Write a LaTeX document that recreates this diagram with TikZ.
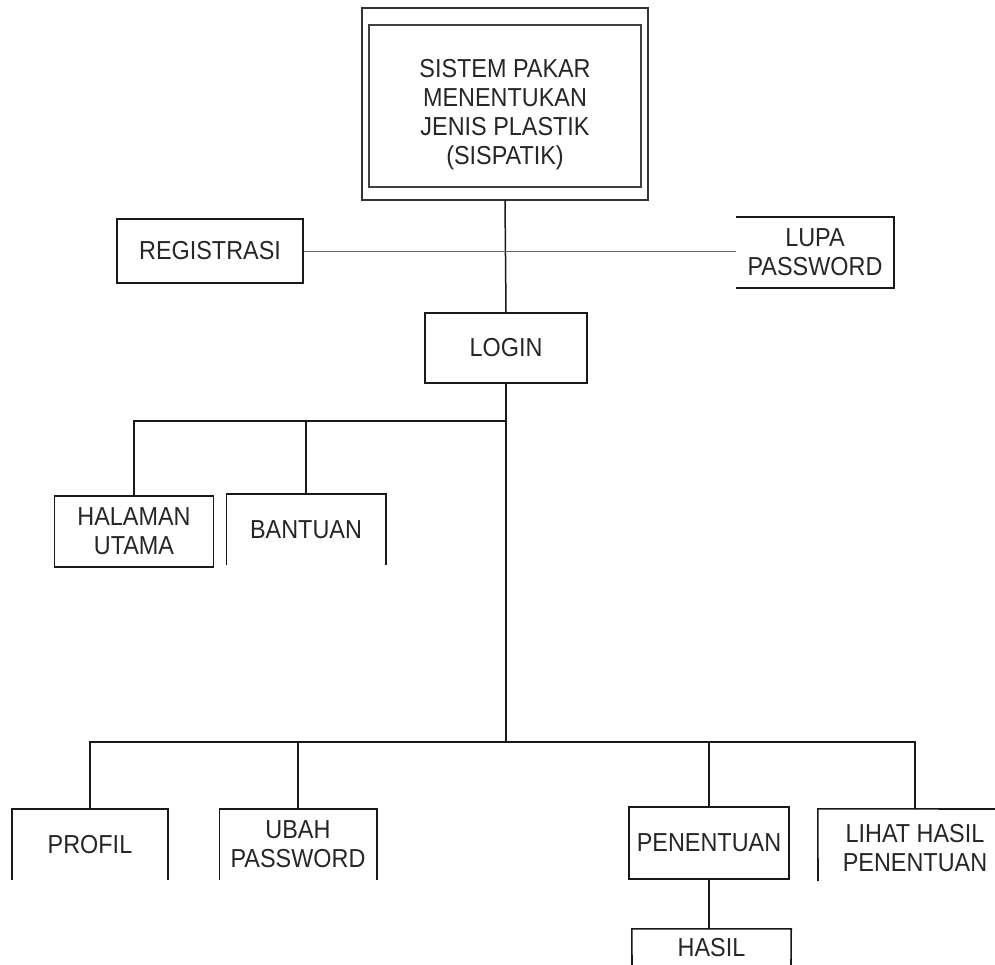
\documentclass[tikz,border=0pt]{standalone}
\usepackage{fontspec}
\newfontfamily\diagfont[FakeStretch=0.9]{Liberation Sans}
\begin{document}
\begin{tikzpicture}[x=1pt,y=-1pt,
  every node/.style={font=\diagfont\fontsize{26}{29}\selectfont, text=black!85, align=center, inner sep=0pt},
  box/.style={draw=black!90, line width=1.6pt},
  bare/.style={draw=none},
  edge/.style={draw=black!90, line width=1.5pt, line cap=round},
  open/.style={draw=black!90, line width=1.6pt}
]
\useasboundingbox (0,0) rectangle (995,964);

% title block (double frame)
\node[draw=black!80, line width=1.5pt, minimum width=286pt, minimum height=192pt] (outer) at (505,104) {};
\node[draw=black!75, line width=2.6pt, minimum width=272pt, minimum height=162pt] (title) at (505,106) {};
\node (titletext) at (505,115) {SISTEM PAKAR\\MENENTUKAN\\JENIS PLASTIK\\(SISPATIK)};

% first level
\node[box, minimum width=186pt, minimum height=64pt] (reg) at (210,251) {REGISTRASI};
\node[bare, minimum width=158pt, minimum height=71pt] (lupa) at (815,252.5) {LUPA\\PASSWORD};
\node[box, minimum width=162pt, minimum height=70pt] (login) at (506,348) {LOGIN};

% upper branch
\node[box, minimum width=159pt, minimum height=71pt] (halaman) at (134,531.5) {HALAMAN\\UTAMA};
\node[bare, minimum width=159pt, minimum height=71pt] (bantuan) at (306,529.5) {BANTUAN};

% lower branch
\node[bare, minimum width=156pt, minimum height=71pt] (profil) at (90,844.5) {PROFIL};
\node[bare, minimum width=157pt, minimum height=71pt] (ubah) at (298,844.5) {UBAH\\PASSWORD};
\node[box, minimum width=160pt, minimum height=72pt] (penentuan) at (709,843) {PENENTUAN};
\node[bare, minimum width=194pt, minimum height=78pt] (lihat) at (915,848) {LIHAT HASIL\\PENENTUAN};
\node[bare, minimum width=159pt, minimum height=38pt] (hasil) at (711.5,948) {HASIL};

% partly open frames
\draw[open] (lupa.north west) -- (lupa.north east) -- (lupa.south east) -- (lupa.south west);
\draw[open] (bantuan.south west) -- (bantuan.north west) -- (bantuan.north east) -- (bantuan.south east);
\draw[open] (profil.south west) -- (profil.north west) -- (profil.north east) -- (profil.south east);
\draw[open] (ubah.south west) -- (ubah.north west) -- (ubah.north east) -- (ubah.south east);
\coordinate (lihatend) at (995,809);
\coordinate (lihatfoot) at (818,881);
\draw[open] (lihatfoot) -- (lihat.north west) -- (lihatend);
\coordinate (hasilbl) at (632,966);
\coordinate (hasilbr) at (791,966);
\draw[open] (hasilbl) -- (hasil.north west) -- (hasil.north east) -- (hasilbr);

% connectors
\coordinate (ub) at (506,421);
\coordinate (lb) at (506,742);
\draw[edge] (outer.south) -- (login.north);
\draw[draw=black!60, line width=0.9pt] (reg.east) -- (reg.east -| lupa.west);
\draw[edge] (login.south) -- (lb);
\draw[edge] (halaman.north) |- (ub);
\draw[edge] (bantuan.north) -- (bantuan.north |- ub);
\draw[edge] (profil.north) |- (lb) -| (lihat.north);
\draw[edge] (ubah.north) -- (ubah.north |- lb);
\draw[edge] (penentuan.north) -- (penentuan.north |- lb);
\draw[edge] (penentuan.south) -- (penentuan.south |- hasil.north);
\end{tikzpicture}
\end{document}
